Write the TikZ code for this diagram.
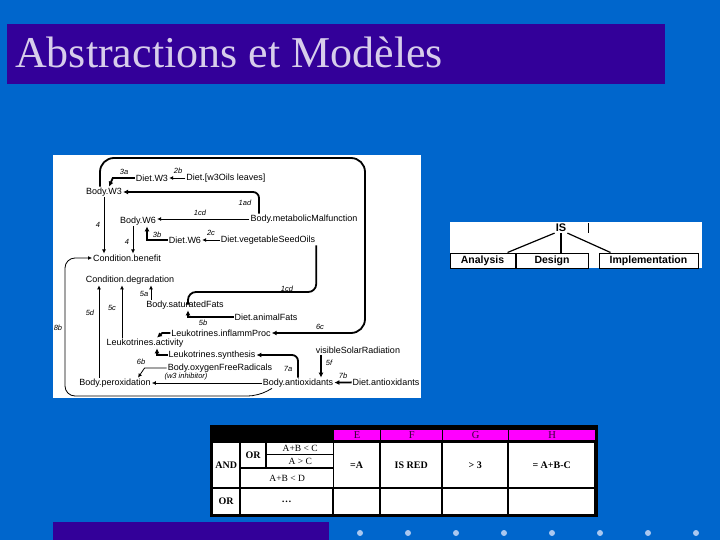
\documentclass[tikz,border=0pt]{standalone}
\usepackage{fontspec}
\setmainfont{Liberation Serif}
\setsansfont{Liberation Sans}
\usetikzlibrary{arrows.meta}
\definecolor{slideblue}{RGB}{0,102,204}
\definecolor{titlepurple}{RGB}{51,0,153}
\definecolor{titletext}{RGB}{215,205,235}
\definecolor{dotblue}{RGB}{170,200,240}
\definecolor{headmag}{RGB}{255,0,255}
\definecolor{headtext}{RGB}{50,0,50}
\begin{document}
\begin{tikzpicture}[x=1pt, y=-1pt,
	txt/.style={font=\sffamily\fontsize{9}{10}\selectfont, inner sep=1pt},
	num/.style={font=\sffamily\itshape\fontsize{7.5}{8}\selectfont, inner sep=0pt},
	arr/.style={-{Latex[length=4pt,width=4pt]}, line width=0.8pt},
	barr/.style={-{Latex[length=5pt,width=5pt]}, line width=1.8pt},
	isbox/.style={draw, line width=1pt, fill=white, font=\sffamily\bfseries\fontsize{10.5}{11}\selectfont, inner sep=0pt, minimum height=15pt},
	cell/.style={fill=white, anchor=north west, inner sep=0pt, font=\bfseries\fontsize{10}{11}\selectfont},
	head/.style={fill=headmag, anchor=north west, inner sep=0pt, text=headtext, font=\fontsize{10.5}{10}\selectfont, minimum height=10pt}]
	\useasboundingbox (0,0) rectangle (720,540);
	\fill[slideblue] (0,0) rectangle (720,540);

	% title
	\fill[titlepurple] (7,24) rectangle (665,84);
	\node[anchor=base west, inner sep=0, text=titletext, font=\fontsize{44}{46}\selectfont] (title) at (15,68) {Abstractions et Modèles};

	% causal model
	\fill[white] (53,155) rectangle (421,398);
	\node[txt] (dietw3) at (152,178) {Diet.W3};
	\node[txt] (dietleaves) at (226,178) {Diet.[w3Oils leaves]};
	\node[txt] (bodyw3) at (104,192) {Body.W3};
	\node[txt] (bodyw6) at (138,221) {Body.W6};
	\node[txt] (bodymetab) at (304,219) {Body.metabolicMalfunction};
	\node[txt] (dietw6) at (185,240) {Diet.W6};
	\node[txt] (dietveg) at (268,240) {Diet.vegetableSeedOils};
	\node[txt] (condben) at (127,258) {Condition.benefit};
	\node[txt] (conddeg) at (130,280) {Condition.degradation};
	\node[txt] (bodysat) at (185,305) {Body.saturatedFats};
	\node[txt] (dietanim) at (266,317) {Diet.animalFats};
	\node[txt] (leukinfl) at (221,333) {Leukotrines.inflammProc};
	\node[txt] (leukact) at (145,343) {Leukotrines.activity};
	\node[txt] (leuksyn) at (212,355) {Leukotrines.synthesis};
	\node[txt] (bodyoxy) at (220,368) {Body.oxygenFreeRadicals};
	\node[num] (inhib) at (186,377) {(w3 inhibitor)};
	\node[txt] (bodyperox) at (115,383) {Body.peroxidation};
	\node[txt] (solar) at (358,350) {visibleSolarRadiation};
	\node[txt] (bodyanti) at (298,383) {Body.antioxidants};
	\node[txt] (dietanti) at (386,382) {Diet.antioxidants};

	\draw[arr] (dietleaves) -- (dietw3);
	\node[num] (l2b) at (178,171) {2b};
	\draw[barr] (dietw3.west) -- ++(-22,0) -- ([xshift=5pt]bodyw3.north);
	\node[num] (l3a) at (124,172) {3a};
	\draw[barr, rounded corners=6pt] ([xshift=-45pt]bodymetab.north) |- (bodyw3.east);
	\node[num] (l1ad) at (245,203) {1ad};
	\draw[barr, rounded corners=14pt] ([xshift=-4pt]bodyw3.north) |- (365,158) |- (leukinfl.east);
	\node[num] (l6c) at (320,327) {6c};
	\draw[arr] (bodymetab.west) -- (bodymetab.west -| bodyw6.east);
	\node[num] (l1cd) at (200,213) {1cd};
	\draw[barr] (dietw6.west) -| ([xshift=9pt]bodyw6.south);
	\node[num] (l3b) at (157,235) {3b};
	\draw[arr] (dietveg) -- (dietw6);
	\node[num] (l2c) at (211,233) {2c};
	\draw[arr] (bodyw3.south) -- (bodyw3.south |- condben.north);
	\node[num] (l4a) at (98,225) {4};
	\draw[arr] ([xshift=-5pt]bodyw6.south) -- ([xshift=-5pt]bodyw6.south |- condben.north);
	\node[num] (l4b) at (127,242) {4};
	\draw[barr, rounded corners=8pt] (dietveg.south east) |- ([xshift=3pt]bodysat.north |- 0,292) -- ([xshift=3pt]bodysat.north);
	\node[num] (l1cdb) at (287,289) {1cd};
	\draw[arr] ([xshift=-34pt]bodysat.north) -- ([xshift=-34pt]bodysat.north |- conddeg.south);
	\node[num] (l5a) at (144,294) {5a};
	\draw[barr] (dietanim.west) -| ([xshift=3pt]bodysat.south);
	\node[num] (l5b) at (203,323) {5b};
	\draw[arr] ([xshift=-23pt]leukact.north) -- ([xshift=-23pt]leukact.north |- conddeg.south);
	\node[num] (l5c) at (112,308) {5c};
	\draw[arr] ([xshift=-16pt]bodyperox.north) -- ([xshift=-16pt]bodyperox.north |- conddeg.south);
	\node[num] (l5d) at (90,313) {5d};
	\draw[barr] (leukinfl.west) -- ++(-8,0) -- ([xshift=12pt]leukact.north);
	\draw[barr] (leuksyn.west) -| ([xshift=12pt]leukact.south);
	\draw[barr, rounded corners=6pt] (bodyanti.north) |- (leuksyn.east);
	\node[num] (l7a) at (288,369) {7a};
	\draw[arr] (bodyoxy.west) -- ++(-22,0) -- ([xshift=23pt]bodyperox.north);
	\node[num] (l6b) at (141,362) {6b};
	\draw[arr] (bodyanti) -- (bodyperox);
	\draw[barr] ([xshift=-37pt]solar.south) -- ([xshift=-37pt]solar.south |- bodyanti.north);
	\node[num] (l5f) at (329,363) {5f};
	\draw[barr] (dietanti) -- (bodyanti);
	\node[num] (l7b) at (343,376) {7b};
	\draw[arr, rounded corners=10pt] ([xshift=-26pt]bodyanti.south) -- (258,396) -- (65,396) |- (condben.west);
	\node[num] (l8b) at (58,328) {8b};

	% IS tree
	\fill[white] (450,222) rectangle (702,268);
	\node[font=\sffamily\bfseries\fontsize{11}{11}\selectfont, inner sep=1pt] (is) at (561,228) {IS};
	\node[isbox, minimum width=65pt] (analysis) at (482.5,260.5) {Analysis};
	\node[isbox, minimum width=72pt] (design) at (552,260.5) {Design};
	\node[isbox, minimum width=99pt] (implementation) at (648.5,260.5) {Implementation};
	\draw[line width=1.2pt] (is.south west) -- ([xshift=-8pt]analysis.north east);
	\draw[line width=1.2pt] (is.south) -- (is.south |- design.north);
	\draw[line width=1.2pt] (is.south east) -- ([xshift=12pt]implementation.north west);
	\draw[line width=1pt] (588,223) -- (588,233);

	% decision table
	\fill[black] (210,425) rectangle (598,517);
	\node[head, minimum width=46pt] (he) at (334,429.5) {E};
	\node[head, minimum width=61pt] (hf) at (381,429.5) {F};
	\node[head, minimum width=65pt] (hg) at (443,429.5) {G};
	\node[head, minimum width=86pt] (hh) at (509,429.5) {H};
	\node[cell, minimum width=26pt, minimum height=44pt] (andc) at (213,443) {AND};
	\node[cell, minimum width=24pt, minimum height=24pt] (orc) at (241,443) {OR};
	\node[cell, minimum width=66pt, minimum height=10.5pt, font=\fontsize{9.5}{10}\selectfont] (conda) at (267,443) {A+B < C};
	\node[cell, minimum width=66pt, minimum height=12pt, font=\fontsize{9.5}{10}\selectfont] (condb) at (267,455) {A > C};
	\node[cell, minimum width=92pt, minimum height=18pt, font=\fontsize{9.5}{10}\selectfont] (condc) at (241,469) {A+B < D};
	\node[cell, minimum width=45pt, minimum height=44pt] (ea) at (334,443) {=A};
	\node[cell, minimum width=60pt, minimum height=44pt] (fa) at (381,443) {IS RED};
	\node[cell, minimum width=64pt, minimum height=44pt] (ga) at (443,443) {> 3};
	\node[cell, minimum width=85pt, minimum height=44pt] (ha) at (509,443) {= A+B-C};
	\node[cell, minimum width=26pt, minimum height=25pt] (orb) at (213,489) {OR};
	\node[cell, minimum width=91pt, minimum height=25pt] (dots) at (241,489) {\dots};
	\node[cell, minimum width=45pt, minimum height=25pt] (eb) at (334,489) {};
	\node[cell, minimum width=60pt, minimum height=25pt] (fb) at (381,489) {};
	\node[cell, minimum width=64pt, minimum height=25pt] (gb) at (443,489) {};
	\node[cell, minimum width=85pt, minimum height=25pt] (hb) at (509,489) {};

	% footer
	\fill[titlepurple] (53,522) rectangle (329,540);
	\fill[dotblue] (360,533) circle (3);
	\fill[dotblue] (408,533) circle (3);
	\fill[dotblue] (456,533) circle (3);
	\fill[dotblue] (504,533) circle (3);
	\fill[dotblue] (552,533) circle (3);
	\fill[dotblue] (600,533) circle (3);
	\fill[dotblue] (648,533) circle (3);
	\fill[dotblue] (696,533) circle (3);
\end{tikzpicture}
\end{document}
